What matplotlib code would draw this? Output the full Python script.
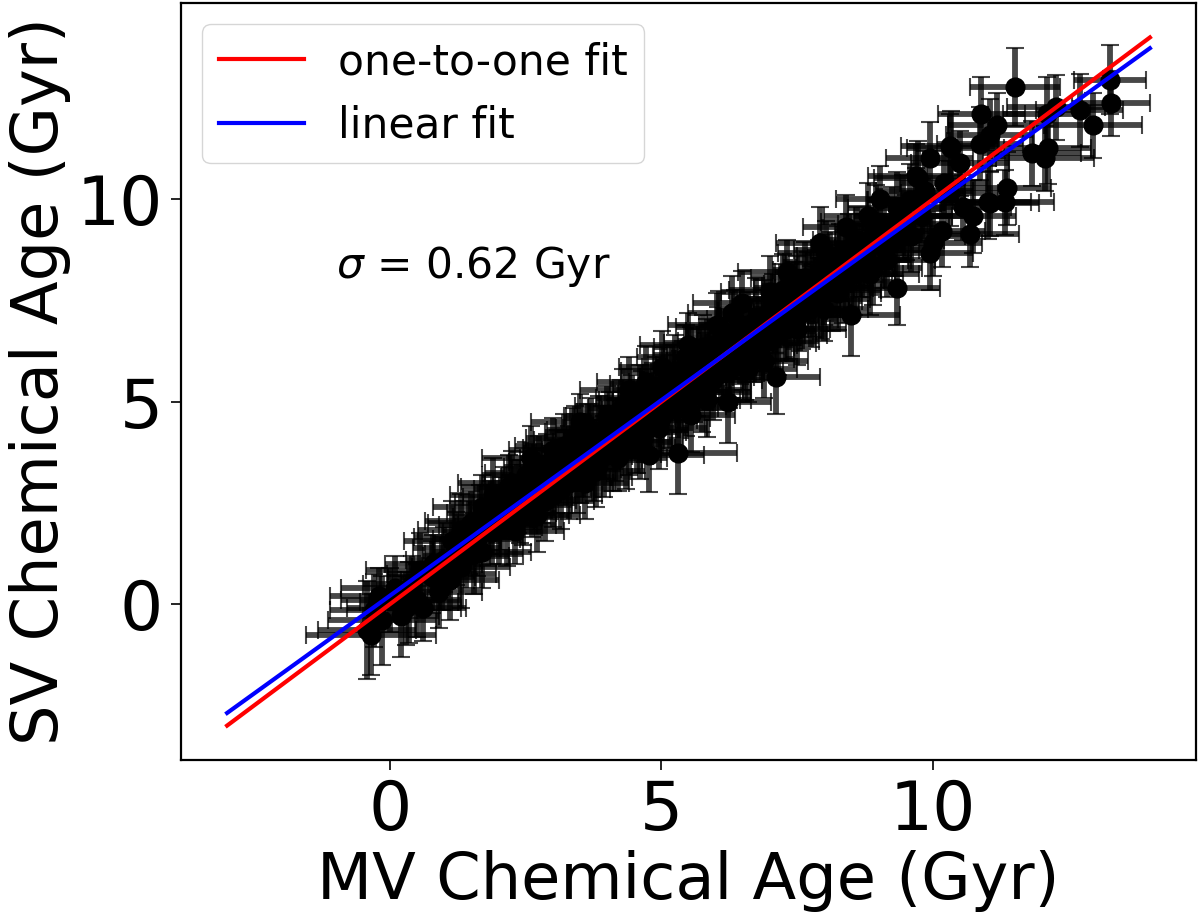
import numpy as np
import matplotlib
matplotlib.use("Agg")
import matplotlib.pyplot as plt

# MV vs SV chemical ages (Gyr)
mv_age = [
    -0.42, -0.15, -0.30, 0.00, 0.20, 0.50, 0.40, 0.77, 0.10, -0.20,
    0.60, 0.90, 1.31, 1.22, 1.00, 0.80, 1.40, 0.30, 1.10, -0.35,
    1.31, 1.88, 1.86, 2.20, 2.62, 2.25, 1.60, 1.70, 2.00, 2.40,
    2.50, 2.80, 2.90, 2.10, 1.50, 2.30, 2.70, 3.00, 1.90, 2.60,
    2.95, 1.70,
    3.10, 3.30, 3.20, 3.50, 3.40, 3.60, 3.80, 3.70, 3.90, 4.00,
    4.10, 4.20, 4.30, 4.40, 4.50, 4.60, 4.72, 4.78, 4.70, 4.80,
    4.90, 5.00, 3.00, 3.50, 4.00, 4.40, 3.60, 4.20, 4.60, 3.30,
    5.02, 5.30, 5.46, 5.55, 5.76, 5.85, 6.03, 6.22, 6.49, 7.12,
    5.10, 5.20, 5.30, 5.40, 5.60, 5.70, 5.80, 5.90, 6.00, 6.10,
    6.20, 6.30, 6.40, 6.50, 6.60, 6.70, 6.80, 6.90, 7.00, 6.07,
    6.60, 6.90, 5.50, 6.30, 5.00,
    7.31, 7.92, 8.04, 8.25, 8.50, 8.41, 8.65, 7.10, 7.20, 7.30,
    7.40, 7.50, 7.60, 7.70, 7.80, 7.90, 8.00, 8.10, 8.20, 8.30,
    8.40, 8.60, 8.70, 8.80, 8.90, 9.00, 7.50, 8.00, 7.00, 8.80,
    9.15, 9.02, 9.34, 9.34,
    9.70, 9.94, 10.31, 10.87, 10.50, 10.33, 9.70, 9.58, 10.31, 11.37,
    11.33, 11.01, 10.55, 10.74, 10.68, 10.17, 10.00, 9.94, 11.05, 10.89,
    11.18, 11.05, 11.51, 9.50, 9.80, 10.20, 9.30, 9.72,
    11.83, 12.12, 12.07, 12.10, 12.27, 12.71, 12.95, 13.27, 13.28,
    0.55, 0.35, 0.95, 1.15, 1.45, 1.55, 1.65, 1.80, 2.05, 2.15,
    2.35, 2.45, 2.55, 2.65, 2.75, 2.85, 3.05, 3.15, 3.25, 3.35,
    3.45, 3.55, 3.65, 3.75, 3.85, 3.95, 4.05, 4.15, 4.25, 4.35,
    4.45, 4.55, 4.65, 4.75, 4.85, 4.95, 5.05, 5.15, 5.25, 5.35,
    5.45, 5.55, 5.65, 5.75, 5.85, 5.95, 6.05, 6.15, 6.25, 6.35,
    6.45, 6.55, 6.65, 6.75, 6.85, 6.95, 7.05, 7.15, 7.25, 7.35,
    7.45, 7.55, 7.65, 7.75, 7.85, 7.95, 8.05, 8.15, 8.25, 8.35,
    8.45, 8.55, 8.75, 8.85, 8.95, 9.10, 9.25, 9.45, 9.60, 9.85,
]
sv_age = [
    -0.64, -0.40, -0.15, 0.10, -0.30, 0.10, 0.50, 0.67, 0.40, 0.20,
    -0.10, 0.30, 0.91, 1.38, 1.10, 1.00, 1.20, -0.10, 0.60, -0.75,
    1.83, 1.78, 2.15, 2.89, 2.57, 2.99, 1.60, 2.40, 1.90, 2.20,
    3.20, 2.90, 3.40, 2.50, 2.00, 1.80, 2.20, 2.70, 2.70, 3.60,
    3.00, 1.30,
    3.50, 3.00, 3.90, 3.40, 4.10, 3.80, 3.30, 4.30, 4.00, 4.60,
    3.70, 4.30, 4.90, 4.00, 4.50, 5.10, 5.48, 3.68, 4.30, 4.80,
    5.30, 4.60, 3.80, 4.50, 4.00, 5.30, 3.00, 3.60, 4.00, 3.60,
    5.85, 3.73, 6.10, 4.67, 6.35, 5.04, 6.89, 4.99, 7.43, 5.60,
    5.20, 5.50, 4.90, 5.60, 5.30, 5.90, 5.60, 6.00, 6.20, 5.70,
    6.50, 6.00, 6.60, 6.20, 6.90, 6.40, 6.80, 7.10, 6.50, 6.84,
    5.80, 6.00, 6.40, 7.20, 5.00,
    8.20, 8.91, 8.67, 7.68, 7.14, 9.31, 8.49, 7.00, 7.50, 6.80,
    7.30, 7.80, 7.20, 7.90, 7.50, 8.20, 7.80, 8.40, 8.00, 8.60,
    8.20, 9.00, 8.50, 8.90, 8.30, 9.20, 6.80, 7.30, 7.70, 9.60,
    8.49, 10.02, 9.78, 7.80,
    10.57, 11.01, 11.31, 11.38, 10.89, 11.28, 9.98, 9.98, 10.15, 10.27,
    9.93, 9.93, 9.80, 9.58, 9.14, 9.23, 8.91, 8.67, 9.90, 12.12,
    11.83, 11.58, 12.77, 9.30, 9.60, 10.40, 9.00, 10.54,
    11.14, 11.28, 11.01, 12.12, 12.27, 12.20, 11.83, 12.96, 12.37,
    0.85, 0.05, 0.75, 1.55, 1.65, 1.25, 2.05, 1.95, 2.25, 1.95,
    2.65, 2.45, 2.85, 2.95, 3.25, 2.55, 3.15, 2.85, 3.35, 3.85,
    3.15, 3.65, 4.05, 3.55, 4.25, 3.65, 4.35, 4.05, 4.65, 3.85,
    4.75, 4.25, 4.85, 4.55, 5.05, 4.35, 5.45, 4.85, 5.75, 5.25,
    5.05, 5.85, 5.55, 5.25, 6.15, 5.55, 6.45, 6.05, 5.75, 6.75,
    6.35, 6.05, 6.65, 7.05, 6.45, 6.75, 7.25, 6.65, 7.75, 7.05,
    7.55, 7.25, 8.05, 7.35, 7.85, 7.55, 8.25, 7.75, 8.45, 7.95,
    8.75, 8.15, 8.75, 8.15, 9.45, 8.80, 9.40, 9.60, 9.10, 10.20,
]
mv_err = [
    0.9, 1.0, 0.8, 0.9, 0.7, 0.8, 0.9, 0.8, 1.0, 0.9,
    0.7, 0.8, 0.9, 0.8, 0.7, 0.9, 0.8, 1.1, 0.9, 1.2,
    0.8, 0.9, 0.7, 0.9, 0.8, 1.0, 0.8, 0.9, 0.8, 0.9,
    0.8, 0.9, 0.8, 0.9, 0.8, 0.9, 0.8, 0.9, 0.8, 0.9,
    0.8, 0.9,
    0.9, 0.8, 0.9, 0.8, 0.9, 0.8, 0.9, 0.8, 0.9, 0.8,
    0.9, 0.8, 0.9, 0.8, 0.9, 0.8, 0.9, 1.0, 0.8, 0.9,
    0.8, 0.9, 0.8, 0.9, 0.8, 0.9, 0.8, 0.9, 0.8, 0.9,
    0.8, 1.1, 0.9, 0.8, 0.9, 0.8, 0.9, 0.8, 0.9, 0.8,
    0.9, 0.8, 0.9, 0.8, 0.9, 0.8, 0.9, 0.8, 0.9, 0.8,
    0.9, 0.8, 0.9, 0.8, 0.9, 0.8, 0.9, 0.8, 0.9, 0.8,
    0.9, 0.8, 0.9, 0.8, 0.9,
    0.9, 0.8, 0.9, 0.8, 0.9, 0.8, 0.9, 0.8, 0.9, 0.8,
    0.9, 0.8, 0.9, 0.8, 0.9, 0.8, 0.9, 0.8, 0.9, 0.8,
    0.9, 0.8, 0.9, 0.8, 0.9, 0.8, 0.9, 0.8, 0.9, 0.8,
    0.9, 0.8, 0.9, 0.8,
    0.9, 0.8, 0.9, 0.8, 0.9, 0.8, 0.9, 0.8, 0.9, 0.8,
    0.9, 0.8, 0.9, 0.8, 0.9, 0.8, 0.9, 0.8, 0.9, 0.8,
    0.9, 0.8, 0.83, 0.8, 0.9, 0.8, 0.9, 0.8,
    0.9, 0.8, 0.9, 0.8, 0.9, 0.8, 0.9, 0.66, 0.72,
    1.0, 0.9, 1.0, 0.9, 1.0, 0.9, 1.0, 0.9, 1.0, 0.9,
    1.0, 0.9, 1.0, 0.9, 1.0, 0.9, 1.0, 0.9, 1.0, 0.9,
    1.0, 0.9, 1.0, 0.9, 1.0, 0.9, 1.0, 0.9, 1.0, 0.9,
    1.0, 0.9, 1.0, 0.9, 1.0, 0.9, 1.0, 0.9, 1.0, 0.9,
    1.0, 0.9, 1.0, 0.9, 1.0, 0.9, 1.0, 0.9, 1.0, 0.9,
    1.0, 0.9, 1.0, 0.9, 1.0, 0.9, 1.0, 0.9, 1.0, 0.9,
    1.0, 0.9, 1.0, 0.9, 1.0, 0.9, 1.0, 0.9, 1.0, 0.9,
    1.0, 0.9, 1.0, 0.9, 1.0, 0.9, 1.0, 0.9, 1.0, 0.9,
]
sv_err = [
    1.2, 1.1, 0.9, 0.8, 1.0, 0.9, 0.7, 0.9, 0.8, 0.7,
    0.8, 0.9, 1.0, 0.9, 0.8, 0.7, 0.8, 0.9, 1.0, 1.0,
    0.9, 0.8, 0.9, 0.8, 0.9, 0.8, 0.9, 0.8, 0.9, 0.7,
    0.8, 0.9, 0.8, 0.9, 0.8, 0.8, 0.9, 0.8, 0.9, 0.8,
    0.9, 0.9,
    0.8, 0.9, 0.8, 0.9, 0.8, 0.8, 0.9, 0.8, 0.9, 0.8,
    0.9, 0.8, 0.9, 0.8, 0.9, 0.8, 0.9, 0.9, 0.8, 0.9,
    0.8, 0.9, 0.8, 0.7, 0.9, 0.8, 0.9, 0.8, 0.9, 0.8,
    0.9, 1.0, 0.8, 0.9, 0.8, 0.9, 0.8, 1.0, 0.8, 0.9,
    0.8, 0.9, 0.8, 0.9, 0.8, 0.9, 0.8, 0.9, 0.8, 0.9,
    0.8, 0.9, 0.8, 0.9, 0.8, 0.9, 0.8, 0.9, 0.8, 0.9,
    0.8, 0.9, 0.8, 0.9, 0.8,
    0.8, 0.9, 0.8, 0.9, 1.0, 0.8, 0.9, 0.8, 0.9, 0.8,
    0.9, 0.8, 0.9, 0.8, 0.9, 0.8, 0.9, 0.8, 0.9, 0.8,
    0.9, 0.8, 0.9, 0.8, 0.9, 0.8, 0.9, 0.8, 0.9, 0.8,
    0.9, 0.8, 0.9, 0.9,
    0.8, 0.9, 0.8, 0.9, 0.8, 0.9, 0.8, 0.9, 0.8, 0.9,
    0.8, 0.9, 0.8, 0.9, 0.8, 0.9, 0.8, 0.9, 0.8, 0.9,
    0.8, 0.9, 0.96, 0.8, 0.9, 0.8, 0.9, 0.9,
    0.8, 0.9, 0.8, 0.9, 0.8, 0.9, 0.8, 0.85, 0.8,
    0.9, 1.0, 0.9, 1.0, 0.9, 1.0, 0.9, 1.0, 0.9, 1.0,
    0.9, 1.0, 0.9, 1.0, 0.9, 1.0, 0.9, 1.0, 0.9, 1.0,
    0.9, 1.0, 0.9, 1.0, 0.9, 1.0, 0.9, 1.0, 0.9, 1.0,
    0.9, 1.0, 0.9, 1.0, 0.9, 1.0, 0.9, 1.0, 0.9, 1.0,
    0.9, 1.0, 0.9, 1.0, 0.9, 1.0, 0.9, 1.0, 0.9, 1.0,
    0.9, 1.0, 0.9, 1.0, 0.9, 1.0, 0.9, 1.0, 0.9, 1.0,
    0.9, 1.0, 0.9, 1.0, 0.9, 1.0, 0.9, 1.0, 0.9, 1.0,
    0.9, 1.0, 0.9, 1.0, 0.9, 1.0, 0.9, 1.0, 0.9, 1.0,
]

# fit lines
fit_range = [-3, 14]
lin_slope = 0.966
lin_intercept = 0.21
sigma_text = r"$\sigma$ = 0.62 Gyr"

fig = plt.figure(figsize=(12, 9.21), dpi=100)
ax = fig.add_axes([0.1508, 0.1748, 0.8459, 0.8219])

ax.errorbar(mv_age, sv_age, xerr=mv_err, yerr=sv_err, fmt='none',
            ecolor='black', elinewidth=4.2, capsize=6.5, capthick=1.5,
            alpha=0.72, zorder=1)
ax.plot(mv_age, sv_age, 'o', color='black', markersize=13.5, zorder=2)

fx = np.array(fit_range, dtype=float)
ax.plot(fx, fx, color='red', lw=3, label='one-to-one fit', zorder=3)
ax.plot(fx, lin_slope * fx + lin_intercept, color='blue', lw=3,
        label='linear fit', zorder=4)

ax.text(-1.0, 8.05, sigma_text, fontsize=30.5, va='baseline')

ax.set_xlim(-3.85, 14.85)
ax.set_ylim(-3.85, 14.85)
ax.set_xticks([0, 5, 10])
ax.set_yticks([0, 5, 10])
ax.tick_params(labelsize=49, length=7, width=1.2, pad=6)
for sp in ax.spines.values():
    sp.set_linewidth(1.6)

ax.set_xlabel('MV Chemical Age (Gyr)', fontsize=46, labelpad=4)
ax.set_ylabel('SV Chemical Age (Gyr)', fontsize=46, labelpad=4)

ax.legend(loc='upper left', fontsize=30.5)

fig.savefig('out.png', dpi=100)
